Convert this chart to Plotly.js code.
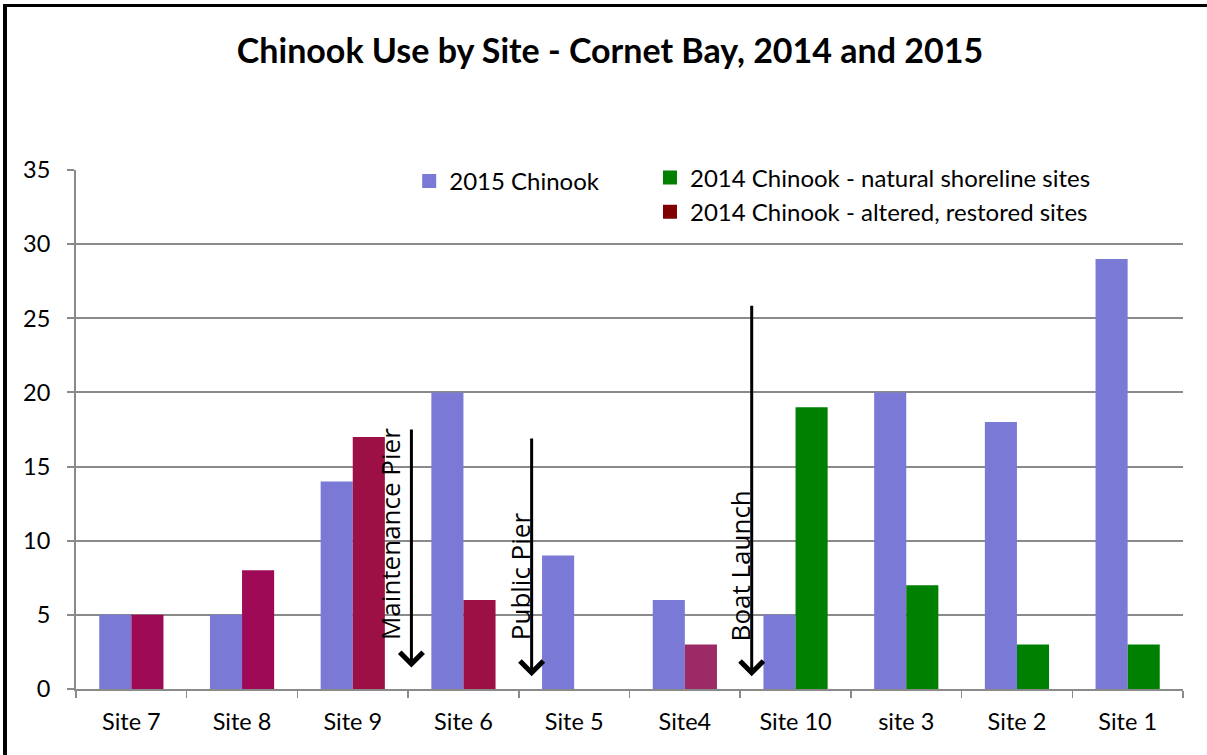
<!DOCTYPE html>
<html><head><meta charset="utf-8">
<script src="https://cdn.plot.ly/plotly-3.0.1.min.js"></script>
<style>
html,body{margin:0;padding:0;background:#fff;overflow:hidden}
#chart{width:1207px;height:755px;position:absolute;left:0;top:0}
#frame{position:absolute;left:3px;top:4px;width:1300px;height:900px;border-left:4px solid #000;border-top:3px solid #000;pointer-events:none}
</style></head><body>
<div id="chart"></div><div id="frame"></div>
<script>
// ---- data ----
const sites = ['Site 7','Site 8','Site 9','Site 6','Site 5','Site4','Site 10','site 3','Site 2','Site 1'];
const chinook2015 = [5, 5, 14, 20, 9, 6, 5, 20, 18, 29];
const chinook2014 = [5, 8, 17, 6, null, 3, 19, 7, 3, 3];
const yTicks = [0, 5, 10, 15, 20, 25, 30, 35];
const legendNames = ['2015 Chinook', '2014 Chinook - natural shoreline sites', '2014 Chinook - altered, restored sites'];
const markerLabels = ['Maintenance Pier', 'Public Pier', 'Boat Launch'];

// ---- styles ----
const c2015 = '#7a7ad6';
const colors2014 = ['#9e0a56','#9e0a56','#9c1045','#9c1045','#9c1045','#9c2a66','#008000','#008000','#008000','#008000'];
const legendColors = ['#7a7ad6', '#008000', '#800000'];
const gridC = '#8a8a8a';
const baseFont = 'Lato, "Open Sans", sans-serif';

const traces = [
  {type:'bar', x:sites, y:chinook2015, marker:{color:c2015}, showlegend:false, name:legendNames[0]},
  {type:'bar', x:sites, y:chinook2014, marker:{color:colors2014}, showlegend:false, name:'2014 Chinook'},
  {type:'scatter', mode:'markers', x:[sites[0]], y:[null], name:legendNames[0], legend:'legend',
   marker:{symbol:'square', size:14, color:legendColors[0]}, hoverinfo:'skip'},
  {type:'scatter', mode:'markers', x:[sites[0]], y:[null], name:legendNames[1], legend:'legend2', legendgroup:'a',
   marker:{symbol:'square', size:14, color:legendColors[1]}, hoverinfo:'skip'},
  {type:'scatter', mode:'markers', x:[sites[0]], y:[null], name:legendNames[2], legend:'legend2', legendgroup:'b',
   marker:{symbol:'square', size:14, color:legendColors[2]}, hoverinfo:'skip'}
];

// annotation placement (positions in axis units)
const arrowPos = [
  {x:2.53, top:17.6, tip:1.45, tx:2.33, ty:10.47},
  {x:3.616, top:17.0, tip:0.86, tx:3.51, ty:7.6},
  {x:5.604, top:25.95, tip:0.86, tx:5.5, ty:8.28}
];
const annotations = [];
arrowPos.forEach((p, i) => {
  annotations.push({x:p.x, y:p.tip, ax:p.x, ay:p.top, xref:'x', yref:'y', axref:'x', ayref:'y',
    text:'', showarrow:true, arrowhead:4, arrowsize:1.5, arrowwidth:3, arrowcolor:'#000', standoff:0, startstandoff:0});
  annotations.push({x:p.tx, y:p.ty, xref:'x', yref:'y', text:markerLabels[i], showarrow:false, textangle:-90,
    xanchor:'center', yanchor:'middle', font:{family:'"Open Sans", sans-serif', size:26, color:'#000'}});
});

const layout = {
  width:1207, height:755,
  margin:{l:76, r:24, t:170, b:65.5, pad:0},
  paper_bgcolor:'#fff', plot_bgcolor:'#fff',
  font:{family:baseFont, color:'#000'},
  title:{text:'<b>Chinook Use by Site - Cornet Bay, 2014 and 2015</b>', x:0.5054, xref:'container', xanchor:'center',
    y:0.932, yanchor:'middle', yref:'container', font:{family:baseFont, size:34, color:'#000'}},
  barmode:'group', bargap:0.42, bargroupgap:0,
  xaxis:{type:'category', range:[-0.5, 9.5], autorange:false, automargin:false, tickson:'boundaries', ticks:'outside', ticklen:7, tickwidth:1.5, tickcolor:gridC,
    showline:true, linecolor:gridC, linewidth:2, showgrid:false, tickfont:{family:baseFont, size:23.5, color:'#000'},
    ticklabelstandoff:11, fixedrange:true},
  yaxis:{range:[0,35], autorange:false, automargin:false, tickvals:yTicks, ticks:'outside', ticklen:7, tickwidth:2, tickcolor:gridC,
    showline:true, linecolor:gridC, linewidth:2, showgrid:true, gridcolor:gridC, gridwidth:2, zeroline:false,
    tickfont:{family:baseFont, size:23.5, color:'#000'}, ticklabelstandoff:12, fixedrange:true},
  legend:{x:0.301, xanchor:'left', y:0.978, yanchor:'middle', orientation:'v', bgcolor:'rgba(0,0,0,0)',
    font:{family:baseFont, size:24, color:'#000'}},
  legend2:{x:0.5185, xanchor:'left', y:0.952, yanchor:'middle', orientation:'v', bgcolor:'rgba(0,0,0,0)',
    tracegroupgap:0, font:{family:baseFont, size:24, color:'#000'}},
  annotations:annotations
};

Plotly.newPlot('chart', traces, layout, {displayModeBar:false, staticPlot:true});
</script>
</body></html>
